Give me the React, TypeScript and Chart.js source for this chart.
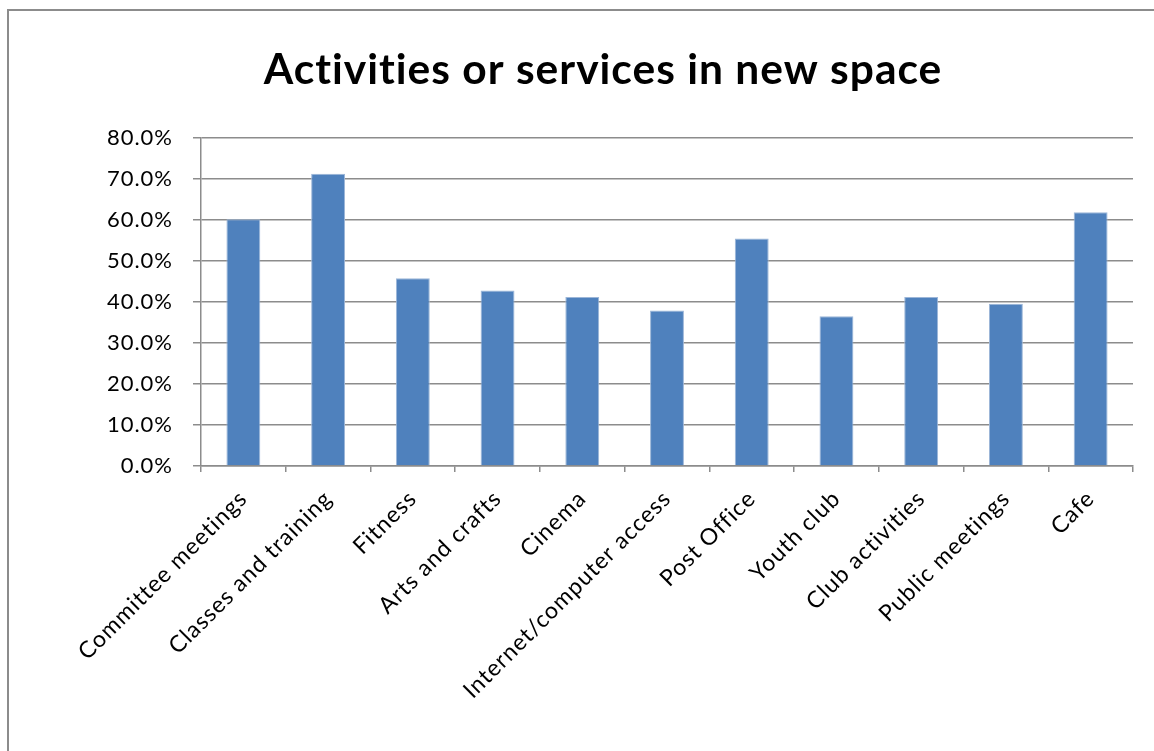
import React, { useEffect, useRef } from "react";
import { Chart, registerables } from "chart.js";

Chart.register(...registerables);

const categories: string[] = [
  "Committee meetings",
  "Classes and training",
  "Fitness",
  "Arts and crafts",
  "Cinema",
  "Internet/computer access",
  "Post Office",
  "Youth club",
  "Club activities",
  "Public meetings",
  "Cafe",
];

const shares: number[] = [60.2, 71.3, 45.8, 42.8, 41.2, 37.9, 55.5, 36.5, 41.2, 39.6, 61.9];

const yTicks = { min: 0, max: 80, step: 10 };

const titleText = "Activities or services in new space";

const spacingPlugin = {
  id: "letterSpacing",
  beforeDraw(chart: any) {
    try {
      chart.ctx.letterSpacing = "1px";
    } catch (e) {
      /* ignore */
    }
  },
  beforeLayout(chart: any) {
    try {
      chart.ctx.letterSpacing = "1px";
    } catch (e) {
      /* ignore */
    }
  },
};

export default function App() {
  const ref = useRef<HTMLCanvasElement | null>(null);

  useEffect(() => {
    if (!ref.current) return;
    const chart = new Chart(ref.current, {
      type: "bar",
      data: {
        labels: categories,
        datasets: [
          {
            label: "Share",
            data: shares,
            backgroundColor: "#4f81bd",
            borderColor: "#9cb6d8",
            borderWidth: 1,
            categoryPercentage: 0.8,
            barPercentage: 0.5,
          },
        ],
      },
      plugins: [spacingPlugin],
      options: {
        animation: false,
        responsive: false,
        maintainAspectRatio: false,
        layout: { padding: { left: 73, right: 21, top: 0, bottom: 0 } },
        plugins: {
          legend: { display: false },
          tooltip: { enabled: false },
          title: {
            display: true,
            text: titleText,
            color: "#000000",
            font: { family: "Lato", size: 42.5, weight: "bold", lineHeight: 1.2 },
            padding: { top: 45, bottom: 42 },
          },
        },
        scales: {
          x: {
            grid: {
              display: true,
              drawOnChartArea: false,
              drawTicks: true,
              tickLength: 6,
              color: "#8c8c8c",
              lineWidth: 1.5,
              offset: true,
            },
            border: { display: true, color: "#8c8c8c", width: 1.5 },
            ticks: {
              color: "#000000",
              font: { family: "Lato", size: 23 },
              maxRotation: 45,
              minRotation: 45,
              autoSkip: false,
              padding: 13,
            },
            afterFit: (scale: any) => {
              scale.height = 751 - 466;
            },
          },
          y: {
            min: yTicks.min,
            max: yTicks.max,
            grid: {
              color: "#8c8c8c",
              lineWidth: 1.5,
              drawTicks: true,
              tickLength: 8,
            },
            border: { display: true, color: "#8c8c8c", width: 1.5 },
            ticks: {
              stepSize: yTicks.step,
              color: "#000000",
              font: { family: "Lato", size: 22 },
              padding: 20,
              callback: (v: any) => Number(v).toFixed(1) + "%",
            },
            afterFit: (scale: any) => {
              scale.width = 201 - 73;
            },
          },
        },
      },
    });
    return () => chart.destroy();
  }, []);

  return (
    <>
      <div
        style={{
          position: "fixed",
          left: 7,
          top: 9,
          width: 1200,
          height: 800,
          borderLeft: "2px solid #8c8c8c",
          borderTop: "2px solid #8c8c8c",
          background: "#ffffff",
        }}
      />
      <canvas
        ref={ref}
        width={1154}
        height={751}
        style={{ position: "fixed", left: 0, top: 0, width: 1154, height: 751 }}
      />
    </>
  );
}
